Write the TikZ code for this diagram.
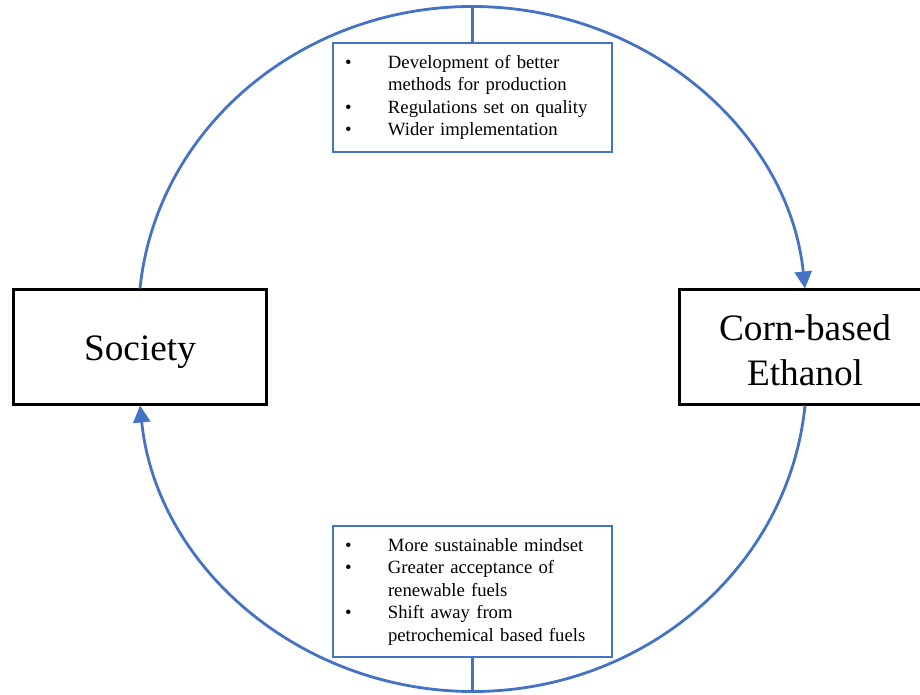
\documentclass[tikz,border=0pt]{standalone}
\usepackage{fontspec}
\setmainfont{Liberation Serif}
\usetikzlibrary{arrows.meta}
\definecolor{obl}{RGB}{68,114,196}
\newcommand\mybul{\makebox[43pt][l]{\textbullet}}
\newcommand\myind{\hspace*{43pt}}
\begin{document}
\begin{tikzpicture}[x=1pt,y=1pt,
  bigbox/.style={draw=black, line width=3pt, minimum width=253pt, minimum height=114pt, inner sep=0pt},
  bigtext/.style={inner sep=0pt, align=center, font=\fontsize{37.3}{44.5}\selectfont},
  infobox/.style={draw=obl, line width=2.8pt, text width=255pt, inner xsep=12pt, inner ysep=0pt, align=left, font=\fontsize{18.7}{22.5}\selectfont},
  flow/.style={draw=obl, line width=2.8pt},
  tip/.style={-{Triangle[length=17pt,width=17pt]}}
]
\useasboundingbox (0,0) rectangle (920,694);
\clip (0,0) rectangle (920,694);
\node[bigbox] (soc) at (140,347) {};
\node[bigtext] (soctext) at ([yshift=-5pt]soc.center) {Society};
\node[bigbox, minimum width=252pt] (corn) at (805,347) {};
\node[bigtext] (corntext) at ([yshift=-3pt]corn.center) {Corn-based\\Ethanol};
\node[infobox, minimum height=109pt] (topbox) at (472.5,596.5) {\mybul Development of better\\\myind methods for production\\\mybul Regulations set on quality\\\mybul Wider implementation};
\node[infobox, minimum height=131pt] (botbox) at (472.5,102.5) {\raisebox{-2pt}{\parbox{255pt}{\mybul More sustainable mindset\\\mybul Greater acceptance of\\\myind renewable fuels\\\mybul Shift away from\\\myind petrochemical based fuels}}};
\coordinate (arctop) at (472.5,686);
\coordinate (arcbot) at (472.5,4);
\draw[flow,tip] (soc.north) arc[start angle=174.482, end angle=5.518, x radius=334.05, y radius=312];
\draw[flow,tip] (corn.south) arc[start angle=-5.448, end angle=-174.552, x radius=334.0, y radius=316];
\draw[flow] (topbox.north) -- (arctop);
\draw[flow] (botbox.south) -- (arcbot);
\end{tikzpicture}
\end{document}
